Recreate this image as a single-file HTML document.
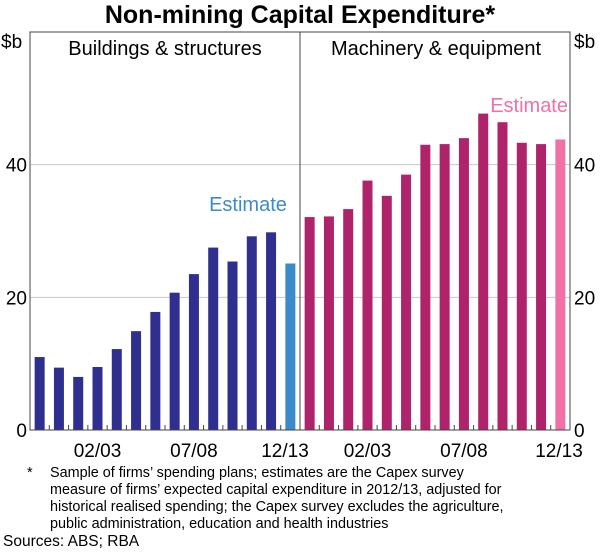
<!DOCTYPE html>
<html><head><meta charset="utf-8"><style>
body{margin:0;background:#fff;width:600px;height:555px;overflow:hidden;font-family:"Liberation Sans",Arial,sans-serif}
svg text{font-family:"Liberation Sans",Arial,sans-serif}
</style></head><body>
<svg id="c" width="600" height="555" viewBox="0 0 600 555">
<text x="300" y="23" text-anchor="middle" font-size="25" font-weight="bold" fill="#000">Non-mining Capital Expenditure*</text>
<g id="grid"></g><g id="bars"></g><g id="axes"></g>
<text x="1" y="48" font-size="19">$b</text>
<text x="574" y="48" font-size="19">$b</text>
<text x="165" y="55" text-anchor="middle" font-size="20">Buildings &amp; structures</text>
<text x="436" y="55" text-anchor="middle" font-size="20">Machinery &amp; equipment</text>
<text x="248" y="211" text-anchor="middle" font-size="20" fill="#3b8bcb">Estimate</text>
<text x="568" y="112" text-anchor="end" font-size="20" fill="#f070a8">Estimate</text>
<g font-size="14.4" fill="#000">
<text x="27" y="477">*</text>
<text x="50" y="477">Sample of firms’ spending plans; estimates are the Capex survey</text>
<text x="50" y="494">measure of firms’ expected capital expenditure in 2012/13, adjusted for</text>
<text x="50" y="511">historical realised spending; the Capex survey excludes the agriculture,</text>
<text x="50" y="528">public administration, education and health industries</text>
<text x="3" y="546" font-size="15.5">Sources: ABS; RBA</text>
</g>
</svg>
<script>
const leftValues=[11.0,9.4,8.0,9.5,12.2,14.9,17.8,20.7,23.5,27.5,25.4,29.2,29.8,25.1];
const rightValues=[32.1,32.2,33.3,37.6,35.3,38.5,43.0,43.1,44.0,47.7,46.4,43.3,43.1,43.8];
const yTicks=[0,20,40];
const xTickLabels=["02/03","07/08","12/13"];
const xTickIdx=[3,8,13];
const ns="http://www.w3.org/2000/svg";
const L=30,M=300,R=570,T=32,B=430,YMAX=60;
const y=v=>B-(v/YMAX)*(B-T);
const n=leftValues.length;
const slot=(M-L)/n;
const x=(panel,i)=>(panel?M:L)+slot*(i+0.5);
function mk(tag,attrs,parent){const e=document.createElementNS(ns,tag);for(const k in attrs)e.setAttribute(k,attrs[k]);document.getElementById(parent).appendChild(e);return e;}
yTicks.forEach(t=>{if(t>0){const g=mk('line',{x1:L,x2:R,y1:y(t),y2:y(t),stroke:'#c8c8c8','stroke-width':1},'grid');

}
const a=mk('text',{x:L-3,y:y(t)+7,'text-anchor':'end','font-size':19},'axes');a.textContent=t;


const b=mk('text',{x:R+4,y:y(t)+7,'font-size':19},'axes');b.textContent=t;

});
[leftValues,rightValues].forEach((vals,p)=>{vals.forEach((v,i)=>{const last=i===vals.length-1;
const col=p?(last?'#f070a8':'#ae2369'):(last?'#3b8bcb':'#2e2f8e');
const r=mk('rect',{x:x(p,i)-5,y:y(v),width:10,height:B-y(v),fill:col},'bars');


if(i>0){mk('line',{x1:(p?M:L)+slot*i,x2:(p?M:L)+slot*i,y1:B,y2:B-5,stroke:'#444','stroke-width':1},'axes');}});
xTickIdx.forEach((idx,k)=>{const t=mk('text',{x:Math.min(x(p,idx),p?559:285),y:457,'text-anchor':'middle','font-size':19},'axes');t.textContent=xTickLabels[k];

});});
const f=mk('rect',{x:L,y:T,width:R-L,height:B-T,fill:'none',stroke:'#444','stroke-width':1},'axes');


const d=mk('line',{x1:M,x2:M,y1:T,y2:B,stroke:'#444','stroke-width':1},'axes');


</script>
</body></html>
